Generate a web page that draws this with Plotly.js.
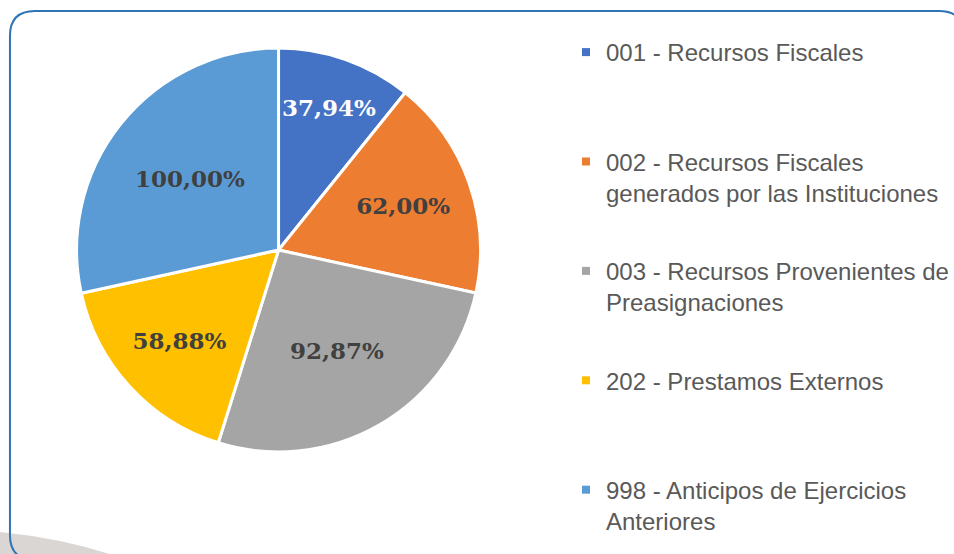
<!DOCTYPE html>
<html><head><meta charset="utf-8">
<script src="https://cdn.plot.ly/plotly-3.0.1.min.js"></script>
<style>html,body{margin:0;padding:0;background:#fff}#c{width:954px;height:554px}</style>
</head><body><div id="c"></div>
<script>
const categories = [
  "001 - Recursos Fiscales",
  "002 - Recursos Fiscales<br>generados por las Instituciones",
  "003 - Recursos Provenientes de<br>Preasignaciones",
  "202 - Prestamos Externos",
  "998 - Anticipos de Ejercicios<br>Anteriores"
];
const values = [37.94, 62.00, 92.87, 58.88, 100.00];
const colors = ["#4472C4", "#ED7D31", "#A5A5A5", "#FFC000", "#5B9BD5"];
const labelColors = ["#FFFFFF", "#404040", "#404040", "#404040", "#404040"];

const W = 954, H = 554;
const px = x => x / W, py = y => 1 - y / H;
const cx = 280, cy = 250, R = 203;

const traces = [{
  type: "pie",
  values: values,
  labels: categories,
  sort: false,
  direction: "clockwise",
  rotation: 0,
  marker: {colors: colors, line: {color: "#FFFFFF", width: 3}},
  texttemplate: "%{value:.2f}%",
  textposition: "inside",
  insidetextorientation: "horizontal",
  textfont: {family: "DejaVu Serif", size: 23, color: labelColors, weight: "bold"},
  showlegend: false,
  hoverinfo: "none",
  domain: {x: [px(cx - R), px(cx + R)], y: [py(cy + R), py(cy - R)]}
}];
categories.forEach((c, i) => {
  const twoLines = c.indexOf("<br>") >= 0;
  traces.push({
    type: "scatter", mode: "markers", x: [null], y: [null],
    name: twoLines ? c : c + "<br> ",
    legendgroup: "g" + i,
    marker: {symbol: "square", size: 8, color: colors[i]},
    showlegend: true, hoverinfo: "none"
  });
});

function boxPath() {
  const l = 10, t = 11, r = 969, b = 560, rad = 25;
  const P = (x, y) => px(x) + "," + py(y);
  return "M" + P(l, b - rad) + " L" + P(l, t + rad) + " Q" + P(l, t) + " " + P(l + rad, t) +
    " L" + P(r - rad, t) + " Q" + P(r, t) + " " + P(r, t + rad) +
    " L" + P(r, b - rad) + " Q" + P(r, b) + " " + P(r - rad, b) +
    " L" + P(l + rad, b) + " Q" + P(l, b) + " " + P(l, b - rad) + " Z";
}
function shadowPath() {
  const P = (x, y) => px(x) + "," + py(y);
  return "M" + P(0, 532) + " Q" + P(60, 538) + " " + P(110, 554) + " L" + P(0, 554) + " Z";
}

const layout = {
  width: W, height: H,
  margin: {l: 0, r: 0, t: 0, b: 0},
  paper_bgcolor: "#FFFFFF", plot_bgcolor: "rgba(0,0,0,0)",
  separators: ",.",
  xaxis: {visible: false, domain: [0.6, 0.61]},
  yaxis: {visible: false, domain: [0.9, 0.91]},
  showlegend: true,
  legend: {
    x: px(569), y: py(30), xanchor: "left", yanchor: "top",
    valign: "top", itemwidth: 30, traceorder: "grouped",
    font: {family: "Liberation Sans", size: 24, color: "#595959"},
    bgcolor: "rgba(0,0,0,0)", tracegroupgap: 44
  },
  shapes: [
    {type: "path", xref: "paper", yref: "paper", path: shadowPath(),
     fillcolor: "rgba(205,200,196,0.75)", line: {width: 0}, layer: "below"},
    {type: "path", xref: "paper", yref: "paper", path: boxPath(),
     fillcolor: "rgba(0,0,0,0)", line: {color: "#2E75B6", width: 2}}
  ]
};
Plotly.newPlot("c", traces, layout, {displayModeBar: false, staticPlot: true});
</script></body></html>
